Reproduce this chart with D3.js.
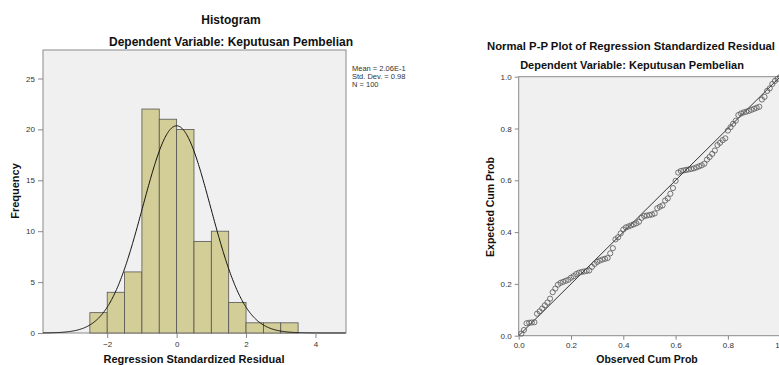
<!DOCTYPE html>
<html>
<head>
<meta charset="utf-8">
<script src="https://cdn.jsdelivr.net/npm/d3@7"></script>
<style>
  body { margin: 0; background: #fff; }
  svg { display: block; font-family: "Liberation Sans", Arial, sans-serif; }
  .tick text { fill: #333; font-size: 8px; }
  .tick line, .domain { stroke: #888; }
  .ttl { font-weight: bold; font-size: 10.5px; fill: #111; text-anchor: middle; }
</style>
</head>
<body>
<script>
// histogram data (bin width 0.5)
const binStarts = [-2.5, -2, -1.5, -1, -0.5, 0, 0.5, 1, 1.5, 2, 2.5, 3];
const binCounts = [2, 4, 6, 22, 21, 20, 9, 10, 3, 1, 1, 1];
const histYTicks = [0, 5, 10, 15, 20, 25];
const histXTicks = [-2, 0, 2, 4];
const statLines = ["Mean = 2.06E-1", "Std. Dev. = 0.98", "N = 100"];
const curveMean = 0;
const curveSd = 0.98;
const nTotal = 100;

// P-P plot, observed cum prob vs expected cum prob
const observedProb = [
  0.01, 0.02, 0.03, 0.04, 0.05, 0.06, 0.07, 0.08, 0.09, 0.10,
  0.11, 0.12, 0.13, 0.14, 0.15, 0.16, 0.17, 0.18, 0.19, 0.20,
  0.21, 0.22, 0.23, 0.24, 0.25, 0.26, 0.27, 0.28, 0.29, 0.30,
  0.31, 0.32, 0.33, 0.34, 0.35, 0.36, 0.37, 0.38, 0.39, 0.40,
  0.41, 0.42, 0.43, 0.44, 0.45, 0.46, 0.47, 0.48, 0.49, 0.50,
  0.51, 0.52, 0.53, 0.54, 0.55, 0.56, 0.57, 0.58, 0.59, 0.60,
  0.61, 0.62, 0.63, 0.64, 0.65, 0.66, 0.67, 0.68, 0.69, 0.70,
  0.71, 0.72, 0.73, 0.74, 0.75, 0.76, 0.77, 0.78, 0.79, 0.80,
  0.81, 0.82, 0.83, 0.84, 0.85, 0.86, 0.87, 0.88, 0.89, 0.90,
  0.91, 0.92, 0.93, 0.94, 0.95, 0.96, 0.97, 0.98, 0.99, 1.00];
const expectedProb = [
  0.008, 0.022, 0.048, 0.050, 0.051, 0.052, 0.085, 0.094, 0.105, 0.117,
  0.128, 0.143, 0.168, 0.182, 0.197, 0.204, 0.208, 0.212, 0.216, 0.224,
  0.230, 0.238, 0.243, 0.246, 0.248, 0.250, 0.252, 0.266, 0.277, 0.285,
  0.290, 0.294, 0.297, 0.300, 0.318, 0.338, 0.372, 0.380, 0.395, 0.410,
  0.418, 0.422, 0.426, 0.430, 0.434, 0.440, 0.455, 0.462, 0.464, 0.466,
  0.468, 0.472, 0.492, 0.498, 0.503, 0.522, 0.530, 0.548, 0.570, 0.598,
  0.630, 0.636, 0.638, 0.640, 0.642, 0.644, 0.646, 0.650, 0.654, 0.658,
  0.664, 0.680, 0.690, 0.702, 0.715, 0.736, 0.745, 0.755, 0.762, 0.792,
  0.805, 0.818, 0.830, 0.852, 0.858, 0.862, 0.865, 0.868, 0.872, 0.876,
  0.880, 0.884, 0.912, 0.922, 0.945, 0.955, 0.972, 0.984, 0.992, 0.999];
const ppTicks = [0, 0.2, 0.4, 0.6, 0.8, 1.0];

const svg = d3.select("body").append("svg").attr("width", 779).attr("height", 365);

// ---------- histogram ----------
const hx = d3.scaleLinear().domain([-3.85, 4.88]).range([43, 346]);
const hy = d3.scaleLinear().domain([0, 27.8]).range([333, 50]);
const binW = 0.5;

svg.append("rect")
  .attr("x", 43).attr("y", 50).attr("width", 303).attr("height", 283)
  .attr("fill", "#f0f0f0").attr("stroke", "#8a8a8a").attr("stroke-width", 1);

svg.append("g").selectAll("rect").data(binCounts).enter().append("rect")
  .attr("x", (d, i) => hx(binStarts[i]))
  .attr("y", d => hy(d))
  .attr("width", (d, i) => hx(binStarts[i] + binW) - hx(binStarts[i]))
  .attr("height", d => hy(0) - hy(d))
  .attr("fill", "#d3ce97").attr("stroke", "#555").attr("stroke-width", 0.8);

// fitted normal curve from the stated mean / sd
const curveX = d3.range(-3.85, 4.88, 0.02);
const dens = x => nTotal * binW * Math.exp(-0.5 * Math.pow((x - curveMean) / curveSd, 2)) / (curveSd * Math.sqrt(2 * Math.PI));
svg.append("path")
  .datum(curveX)
  .attr("fill", "none").attr("stroke", "#111").attr("stroke-width", 1)
  .attr("d", d3.line().x(d => hx(d)).y(d => hy(dens(d))));

svg.append("g").attr("transform", "translate(43,0)")
  .call(d3.axisLeft(hy).tickValues(histYTicks).tickSize(5).tickSizeOuter(0))
  .call(g => g.select(".domain").remove());
svg.append("g").attr("transform", "translate(0,333)")
  .call(d3.axisBottom(hx).tickValues(histXTicks).tickSize(5).tickSizeOuter(0))
  .call(g => g.select(".domain").remove());

svg.append("text").attr("class", "ttl").attr("x", 231).attr("y", 24).style("font-size", "12px").text("Histogram");
svg.append("text").attr("class", "ttl").attr("x", 231).attr("y", 46).style("font-size", "12px").text("Dependent Variable: Keputusan Pembelian");
svg.append("text").attr("class", "ttl").attr("x", 194).attr("y", 363).style("font-size", "11px").text("Regression Standardized Residual");
svg.append("text").attr("class", "ttl").style("font-size", "11px")
  .attr("transform", "translate(19,191) rotate(-90)").text("Frequency");

svg.append("g").selectAll("text").data(statLines).enter().append("text")
  .attr("x", 352).attr("y", (d, i) => 71 + i * 8)
  .attr("font-size", 7.5).attr("fill", "#333")
  .text(d => d);

// ---------- P-P plot ----------
const px = d3.scaleLinear().domain([0, 1]).range([518.7, 780.2]);
const py = d3.scaleLinear().domain([0, 1]).range([335.7, 76.7]);

svg.append("rect")
  .attr("x", px(0)).attr("y", py(1)).attr("width", px(1) - px(0)).attr("height", py(0) - py(1))
  .attr("fill", "#f0f0f0").attr("stroke", "#8a8a8a").attr("stroke-width", 1);

svg.append("line")
  .attr("x1", px(0)).attr("y1", py(0)).attr("x2", px(1)).attr("y2", py(1))
  .attr("stroke", "#333").attr("stroke-width", 1);

svg.append("g").selectAll("circle").data(expectedProb).enter().append("circle")
  .attr("cx", (d, i) => px(observedProb[i]))
  .attr("cy", d => py(d))
  .attr("r", 2.6)
  .attr("fill", "none").attr("stroke", "#555").attr("stroke-width", 0.8);

svg.append("g").attr("transform", `translate(${px(0)},0)`)
  .call(d3.axisLeft(py).tickValues(ppTicks).tickFormat(d3.format(".1f")).tickSize(4).tickSizeOuter(0))
  .call(g => g.select(".domain").remove());
svg.append("g").attr("transform", `translate(0,${py(0)})`)
  .call(d3.axisBottom(px).tickValues(ppTicks).tickFormat(d3.format(".1f")).tickSize(4).tickSizeOuter(0))
  .call(g => g.select(".domain").remove());

svg.append("text").attr("class", "ttl").attr("x", 631).attr("y", 50).style("font-size", "11.3px").text("Normal P-P Plot of Regression Standardized Residual");
svg.append("text").attr("class", "ttl").attr("x", 632).attr("y", 69).style("font-size", "11px").text("Dependent Variable: Keputusan Pembelian");
svg.append("text").attr("class", "ttl").attr("x", 647).attr("y", 363).style("font-size", "10.5px").text("Observed Cum Prob");
svg.append("text").attr("class", "ttl").style("font-size", "10.5px")
  .attr("transform", "translate(494,207) rotate(-90)").text("Expected Cum Prob");
</script>
</body>
</html>
